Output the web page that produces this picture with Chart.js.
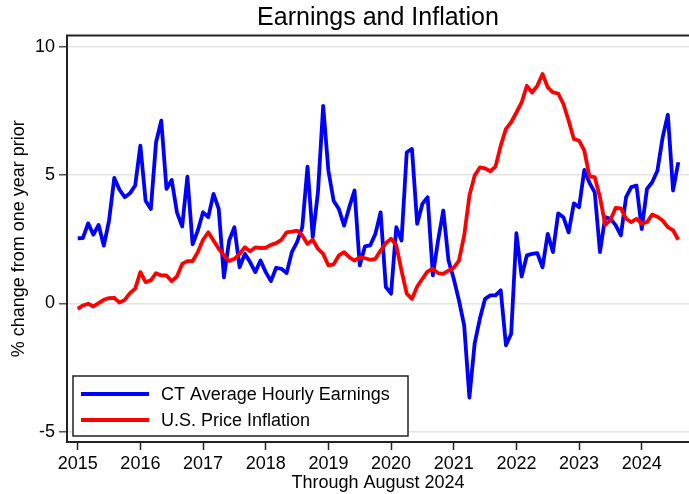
<!DOCTYPE html>
<html>
<head>
<meta charset="utf-8">
<title>Earnings and Inflation</title>
<script src="https://cdn.jsdelivr.net/npm/chart.js@4.4.1/dist/chart.umd.min.js"></script>
<style>
  html, body { margin: 0; padding: 0; background: #fff; }
  #wrap { width: 689px; height: 494px; }
</style>
</head>
<body>
<div id="wrap"><canvas id="grafico" width="689" height="494"></canvas></div>
<script>
// Dados mensais, jan/2015 a ago/2024 (% sobre o mesmo mês do ano anterior)
const startYear = 2015;
const yearTicks = [2015, 2016, 2017, 2018, 2019, 2020, 2021, 2022, 2023, 2024];
const yTicks = [-5, 0, 5, 10];

const earnings = [
  2.54, 2.55, 3.12, 2.68, 3.06, 2.25, 3.23, 4.89, 4.43, 4.14, 4.29, 4.59,
  6.15, 4.00, 3.68, 6.28, 7.12, 4.46, 4.81, 3.55, 3.00, 4.94, 2.30, 2.84,
  3.55, 3.36, 4.27, 3.68, 1.02, 2.45, 2.97, 1.41, 1.93, 1.61, 1.22, 1.67,
  1.22, 0.87, 1.39, 1.35, 1.18, 2.00, 2.39, 2.97, 5.33, 2.58, 4.33, 7.70,
  5.17, 4.00, 3.68, 3.03, 3.75, 4.40, 1.48, 2.22, 2.26, 2.71, 3.55, 0.64,
  0.38, 2.97, 2.45, 5.89, 6.02, 3.10, 3.88, 4.14, 1.09, 2.45, 3.62, 1.67,
  0.96, 0.12, -0.86, -3.67, -1.57, -0.60, 0.18, 0.31, 0.31, 0.51, -1.63, -1.18,
  2.74, 1.05, 1.87, 1.93, 1.96, 1.41, 2.71, 2.00, 3.51, 3.36, 2.77, 3.90,
  3.75, 5.20, 4.70, 4.33, 2.00, 3.36, 3.30, 3.05, 2.65, 4.14, 4.53, 4.59,
  2.90, 4.46, 4.72, 5.17, 6.47, 7.35, 4.40, 5.50
];

const inflation = [
  -0.21, -0.08, -0.01, -0.12, 0.01, 0.14, 0.21, 0.22, 0.03, 0.14, 0.40, 0.57,
  1.22, 0.83, 0.90, 1.18, 1.09, 1.09, 0.87, 1.05, 1.54, 1.65, 1.65, 2.00,
  2.48, 2.77, 2.45, 2.13, 1.87, 1.65, 1.74, 1.93, 2.19, 2.03, 2.18, 2.16,
  2.17, 2.28, 2.35, 2.48, 2.77, 2.80, 2.84, 2.65, 2.32, 2.48, 2.13, 1.93,
  1.48, 1.52, 1.87, 2.00, 1.80, 1.67, 1.80, 1.76, 1.70, 1.74, 2.06, 2.35,
  2.52, 2.26, 1.28, 0.38, 0.18, 0.66, 0.96, 1.25, 1.35, 1.18, 1.15, 1.28,
  1.39, 1.67, 2.65, 4.20, 4.98, 5.30, 5.26, 5.15, 5.33, 6.15, 6.80, 7.06,
  7.44, 7.83, 8.48, 8.22, 8.48, 8.94, 8.42, 8.22, 8.18, 7.77, 7.12, 6.41,
  6.34, 5.95, 4.94, 4.92, 4.14, 3.06, 3.25, 3.72, 3.70, 3.30, 3.17, 3.30,
  3.10, 3.17, 3.46, 3.38, 3.23, 2.97, 2.85, 2.48
];

const seriesLabels = ["CT Average Hourly Earnings", "U.S. Price Inflation"];
const seriesColors = ["#0000ff", "#ff0000"];

Chart.defaults.font.family = "'Liberation Sans', Arial, sans-serif";
Chart.defaults.color = "#000";

function toPoints(valores) {
  return valores.map((v, i) => ({ x: startYear + i / 12, y: v }));
}

// linha de cima da moldura
const moldura = {
  id: "moldura",
  afterDraw(chart) {
    const { ctx, chartArea } = chart;
    ctx.save();
    ctx.strokeStyle = "#222";
    ctx.lineWidth = 2;
    ctx.beginPath();
    ctx.moveTo(chartArea.left - 1, chartArea.top);
    ctx.lineTo(chartArea.right, chartArea.top);
    ctx.stroke();
    ctx.restore();
  }
};

// legenda dentro do gráfico, canto inferior esquerdo
const legendaBox = {
  id: "legendaBox",
  afterDatasetsDraw(chart) {
    const { ctx, chartArea } = chart;
    const x0 = chartArea.left + 6, y0 = chartArea.bottom - 66;
    const w = 335, h = 60;
    ctx.save();
    ctx.fillStyle = "#fff";
    ctx.fillRect(x0, y0, w, h);
    ctx.strokeStyle = "#222";
    ctx.lineWidth = 1.5;
    ctx.strokeRect(x0, y0, w, h);
    ctx.font = "18px 'Liberation Sans', Arial, sans-serif";
    ctx.textBaseline = "middle";
    chart.data.datasets.forEach((ds, i) => {
      const y = y0 + 18 + i * 26;
      ctx.strokeStyle = ds.borderColor;
      ctx.lineWidth = 4;
      ctx.beginPath();
      ctx.moveTo(x0 + 8, y);
      ctx.lineTo(x0 + 76, y);
      ctx.stroke();
      ctx.fillStyle = "#000";
      ctx.fillText(ds.label, x0 + 88, y + 1);
    });
    ctx.restore();
  }
};

const ctx = document.getElementById("grafico").getContext("2d");

new Chart(ctx, {
  type: "line",
  data: {
    datasets: [
      {
        label: seriesLabels[0],
        data: toPoints(earnings),
        borderColor: seriesColors[0],
        borderWidth: 3.8,
        pointRadius: 0,
        tension: 0,
        borderJoinStyle: "round",
        order: 2
      },
      {
        label: seriesLabels[1],
        data: toPoints(inflation),
        borderColor: seriesColors[1],
        borderWidth: 3.8,
        pointRadius: 0,
        tension: 0,
        borderJoinStyle: "round",
        order: 1
      }
    ]
  },
  options: {
    responsive: false,
    animation: false,
    layout: { padding: 0 },
    plugins: {
      legend: { display: false },
      tooltip: { enabled: false },
      title: {
        display: true,
        text: "Earnings and Inflation",
        fullSize: false,
        color: "#000",
        font: { size: 25, weight: "normal" },
        padding: { top: 3, bottom: 2.5 }
      }
    },
    scales: {
      x: {
        type: "linear",
        min: 2014.829,
        max: 2024.754,
        afterBuildTicks: s => { s.ticks = yearTicks.map(v => ({ value: v })); },
        afterFit: s => { s.height = 52; },
        ticks: {
          callback: v => String(v),
          font: { size: 18 },
          color: "#000",
          padding: 3,
          maxRotation: 0,
          autoSkip: false
        },
        grid: {
          drawOnChartArea: false,
          tickLength: 8,
          tickColor: "#222",
          tickWidth: 1.5
        },
        border: { color: "#222", width: 2 },
        title: {
          display: true,
          text: "Through August 2024",
          font: { size: 18 },
          color: "#000",
          padding: { top: 0, bottom: 0 }
        }
      },
      y: {
        min: -5.4,
        max: 10.44,
        afterBuildTicks: s => { s.ticks = yTicks.map(v => ({ value: v })); },
        afterFit: s => { s.width = 67; },
        ticks: {
          font: { size: 18 },
          color: "#000",
          padding: 4
        },
        grid: {
          color: "#e3e3e3",
          lineWidth: 1.5,
          tickLength: 8,
          tickColor: "#555",
          tickWidth: 1.5
        },
        border: { color: "#222", width: 2 },
        title: {
          display: true,
          text: "% change from one year prior",
          font: { size: 18 },
          color: "#000",
          padding: { top: 8, bottom: 0 }
        }
      }
    }
  },
  plugins: [moldura, legendaBox]
});
</script>
</body>
</html>
